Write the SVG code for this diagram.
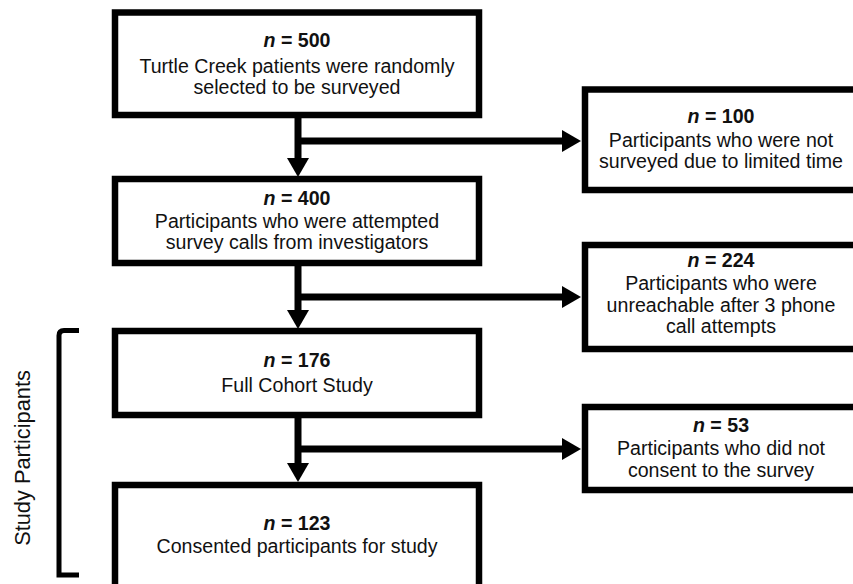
<svg xmlns="http://www.w3.org/2000/svg" width="853" height="584" viewBox="0 0 853 584">
<style>
.box{fill:#fff;stroke:#000;stroke-width:6.5}
.t{font-family:"Liberation Sans",Arial,sans-serif;font-size:19.6px;fill:#111;text-anchor:middle}
.n{font-weight:bold}
.ln{stroke:#000;stroke-width:7;fill:none}
.ah{fill:#000}
</style>
<rect width="853" height="584" fill="#fff"/>
<g id="connectors">
<line class="ln" x1="298" y1="118" x2="298" y2="160"/>
<line class="ln" x1="298" y1="141" x2="564" y2="141"/>
<polygon class="ah" points="287,158 309,158 298,177"/>
<polygon class="ah" points="562,130 581,141 562,152"/>
<line class="ln" x1="298" y1="266" x2="298" y2="312"/>
<line class="ln" x1="298" y1="297" x2="564" y2="297"/>
<polygon class="ah" points="287,310 309,310 298,329"/>
<polygon class="ah" points="562,286 581,297 562,308"/>
<line class="ln" x1="298" y1="418" x2="298" y2="465"/>
<line class="ln" x1="298" y1="449" x2="564" y2="449"/>
<polygon class="ah" points="287,463 309,463 298,482"/>
<polygon class="ah" points="562,438 581,449 562,460"/>
</g>
<g id="node1">
<rect class="box" x="115" y="12.5" width="364" height="102.5"/>
<text class="t" x="297" y="47"><tspan class="n"><tspan font-style="italic">n</tspan> = 500</tspan></text>
<text class="t" x="297" y="73">Turtle Creek patients were randomly</text>
<text class="t" x="297" y="94">selected to be surveyed</text>
</g>
<g id="node2">
<rect class="box" x="115" y="179" width="364" height="84"/>
<text class="t" x="297" y="205"><tspan class="n"><tspan font-style="italic">n</tspan> = 400</tspan></text>
<text class="t" x="297" y="228">Participants who were attempted</text>
<text class="t" x="297" y="249">survey calls from investigators</text>
</g>
<g id="node3">
<rect class="box" x="115" y="331" width="364" height="84"/>
<text class="t" x="297" y="367"><tspan class="n"><tspan font-style="italic">n</tspan> = 176</tspan></text>
<text class="t" x="297" y="392">Full Cohort Study</text>
</g>
<g id="node4">
<rect class="box" x="115" y="485" width="364" height="120"/>
<text class="t" x="297" y="530"><tspan class="n"><tspan font-style="italic">n</tspan> = 123</tspan></text>
<text class="t" x="297" y="553">Consented participants for study</text>
</g>
<g id="excl1">
<rect class="box" x="585" y="89.5" width="272" height="100.5"/>
<text class="t" x="721" y="123"><tspan class="n"><tspan font-style="italic">n</tspan> = 100</tspan></text>
<text class="t" x="721" y="147">Participants who were not</text>
<text class="t" x="721" y="168">surveyed due to limited time</text>
</g>
<g id="excl2">
<rect class="box" x="585" y="245" width="272" height="104"/>
<text class="t" x="721" y="267"><tspan class="n"><tspan font-style="italic">n</tspan> = 224</tspan></text>
<text class="t" x="721" y="290">Participants who were</text>
<text class="t" x="721" y="312">unreachable after 3 phone</text>
<text class="t" x="721" y="333">call attempts</text>
</g>
<g id="excl3">
<rect class="box" x="585" y="407" width="272" height="83"/>
<text class="t" x="721" y="432"><tspan class="n"><tspan font-style="italic">n</tspan> = 53</tspan></text>
<text class="t" x="721" y="455">Participants who did not</text>
<text class="t" x="721" y="477">consent to the survey</text>
</g>
<g id="bracket">
<path d="M79,330.5 H64 Q59,330.5 59,335.5 V575 H79" fill="none" stroke="#000" stroke-width="5"/>
<text class="t" transform="translate(30,458) rotate(-90)" style="font-size:21.8px">Study Participants</text>
</g>
</svg>
